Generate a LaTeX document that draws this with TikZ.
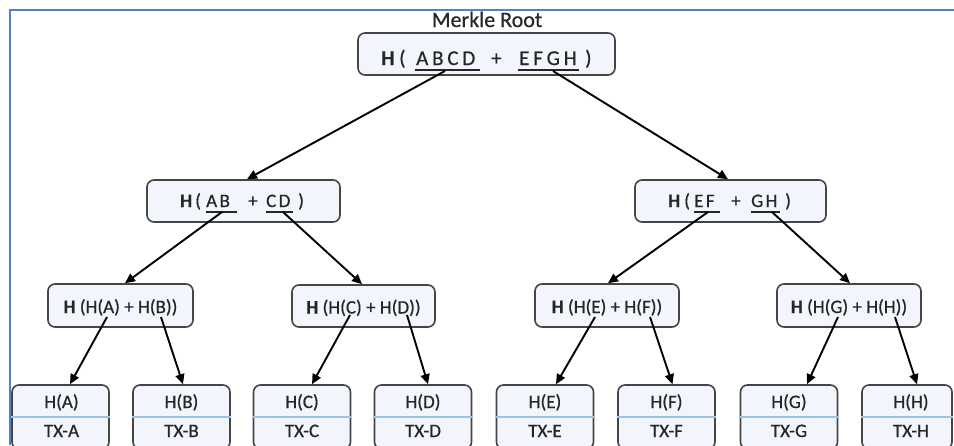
\documentclass[tikz,border=0pt]{standalone}
\usepackage{fontspec}
\setmainfont{Carlito}[FakeBold=0.6]
\usetikzlibrary{arrows.meta}
\definecolor{frameblue}{HTML}{4F7FD6}
\definecolor{boxfill}{HTML}{F2F6FC}
\definecolor{boxline}{HTML}{454545}
\definecolor{divider}{HTML}{9DC3E6}
\definecolor{ink}{HTML}{262626}
% extra letter spacing inside the hash labels
\newcommand\lsp{\kern3.8pt}
\newcommand\ssp{\kern2.4pt}
\begin{document}
\begin{tikzpicture}[x=1pt,y=-1pt,
  hashbox/.style={draw=boxline,fill=boxfill,line width=1.6pt,rounded corners=7pt,inner sep=0pt},
  leafbox/.style={hashbox,minimum width=97pt,minimum height=64pt},
  big/.style={inner sep=0pt,text=ink,font=\fontsize{21pt}{25pt}\selectfont},
  mid/.style={inner sep=0pt,text=ink,font=\fontsize{19pt}{23pt}\selectfont},
  small/.style={inner sep=0pt,text=ink,font=\fontsize{19pt}{23pt}\selectfont},
  uline/.style={draw=ink,line width=1.6pt},
  arr/.style={draw=black,line width=1.9pt,-{Triangle[length=10pt,width=9pt]}},
  divline/.style={draw=divider,line width=1.3pt}
]
\useasboundingbox (0,0) rectangle (954,445);

% page frame
\draw[frameblue,line width=2pt] (9.5,445) -- (9.5,9.5) -- (954,9.5);

% ---------- root ----------
\node[inner sep=0pt,text=ink,font=\fontsize{22pt}{26pt}\selectfont,anchor=base] (title) at (487,27) {Merkle Root};
\node[hashbox,minimum width=257pt,minimum height=42pt] (root) at (486.5,54) {};
\node[big,anchor=base west] (rH) at (381,65) {\textbf{H}};
\node[big,anchor=base west] (rLP) at (399,65) {(};
\node[big,anchor=base west] (rABCD) at (416,65) {A\lsp B\lsp C\lsp D};
\node[big,anchor=base west] (rPlus) at (491,65) {+};
\node[big,anchor=base west] (rEFGH) at (519,65) {E\lsp F\lsp G\lsp H};
\node[big,anchor=base west] (rRP) at (585,65) {)};
\draw[uline] ([shift={(-1,5)}]rABCD.base west) -- ([shift={(5,5)}]rABCD.base east);
\draw[uline] ([shift={(-1,5)}]rEFGH.base west) -- ([shift={(2,5)}]rEFGH.base east);
\coordinate (sABCD) at (445,71);
\coordinate (sEFGH) at (553,71);

% ---------- level 1 ----------
\node[hashbox,minimum width=193pt,minimum height=42pt] (l1a) at (243.5,201) {};
\node[mid,anchor=base west] (aH) at (180,207) {\textbf{H}};
\node[mid,anchor=base west] (aLP) at (195,207) {(};
\node[mid,anchor=base west] (aAB) at (206,207) {A\ssp B};
\node[mid,anchor=base west] (aPlus) at (248,207) {+};
\node[mid,anchor=base west] (aCD) at (266,207) {C\ssp D};
\node[mid,anchor=base west] (aRP) at (298,207) {)};
\draw[uline] ([yshift=-5pt]aAB.base west) -- ++(31,0);
\draw[uline] ([yshift=-5pt]aCD.base west) -- ++(27,0);
\coordinate (sAB) at (222,212);
\coordinate (sCD) at (283,212);

\node[hashbox,minimum width=191pt,minimum height=42pt] (l1b) at (730.5,201) {};
\node[mid,anchor=base west] (bH) at (668,207) {\textbf{H}};
\node[mid,anchor=base west] (bLP) at (684,207) {(};
\node[mid,anchor=base west] (bEF) at (694,207) {E\ssp F};
\node[mid,anchor=base west] (bPlus) at (731,207) {+};
\node[mid,anchor=base west] (bGH) at (751,207) {G\ssp H};
\node[mid,anchor=base west] (bRP) at (785,207) {)};
\draw[uline] ([yshift=-5pt]bEF.base west) -- ++(26,0);
\draw[uline] ([yshift=-5pt]bGH.base west) -- ++(29,0);
\coordinate (sEF) at (708,212);
\coordinate (sGH) at (772,212);

% ---------- level 2 ----------
\node[hashbox,minimum width=145pt,minimum height=43pt] (l2a) at (120.5,305.5) {};
\node[hashbox,minimum width=143pt,minimum height=42pt] (l2b) at (363.5,306) {};
\node[hashbox,minimum width=144pt,minimum height=43pt] (l2c) at (607,305.5) {};
\node[hashbox,minimum width=144pt,minimum height=43pt] (l2d) at (849,305.5) {};
\node[small,anchor=base] at ([yshift=-7.5pt]l2a.center) {\textbf{H} (H(A) + H(B))};
\node[small,anchor=base] at ([yshift=-7.5pt]l2b.center) {\textbf{H} (H(C) + H(D))};
\node[small,anchor=base] at ([yshift=-7.5pt]l2c.center) {\textbf{H} (H(E) + H(F))};
\node[small,anchor=base] at ([yshift=-7.5pt]l2d.center) {\textbf{H} (H(G) + H(H))};
\coordinate (sA) at (107,317);
\coordinate (sB) at (161,317);
\coordinate (sC) at (350,315);
\coordinate (sD) at (407,315);
\coordinate (sE) at (595,317);
\coordinate (sF) at (650,317);
\coordinate (sG) at (838,317);
\coordinate (sH) at (895,317);

% ---------- leaves ----------
\foreach \n/\x/\w in {a/60.5/97, b/181.5/97, c/302/97, d/423/97,
                      e/545/97, f/666.5/97, g/789/97, h/907/90}{
  \node[leafbox,minimum width=\w pt] (t\n) at (\x,417) {};
  \draw[divline] (t\n.west) -- (t\n.east);
}
\foreach \n/\tx/\dx in {a/A/1, b/B/0, c/C/0, d/D/0, e/E/0, f/F/0, g/G/0, h/H/4}{
  \node[small,anchor=base] at ([shift={(\dx pt,9pt)}]t\n.center) {H(\tx)};
  \node[small,anchor=base] at ([shift={(\dx pt,-20pt)}]t\n.center) {TX-\tx};
}

% ---------- connectors ----------
\draw[arr] (sABCD) -- ([xshift=3.5pt]l1a.north);
\draw[arr] (sEFGH) -- ([xshift=-2.5pt]l1b.north);
\draw[arr] (sAB) -- ([xshift=4.5pt]l2a.north);
\draw[arr] (sCD) -- ([xshift=-1.5pt]l2b.north);
\draw[arr] (sEF) -- ([xshift=1pt]l2c.north);
\draw[arr] (sGH) -- ([xshift=1pt]l2d.north);
\draw[arr] (sA) -- ([xshift=9.5pt]ta.north);
\draw[arr] (sB) -- ([xshift=1.5pt]tb.north);
\draw[arr] (sC) -- ([xshift=10pt]tc.north);
\draw[arr] (sD) -- ([xshift=5pt]td.north);
\draw[arr] (sE) -- ([xshift=11pt]te.north);
\draw[arr] (sF) -- ([xshift=6pt]tf.north);
\draw[arr] (sG) -- ([xshift=18pt]tg.north);
\draw[arr] (sH) -- ([xshift=10pt]th.north);
\end{tikzpicture}
\end{document}
